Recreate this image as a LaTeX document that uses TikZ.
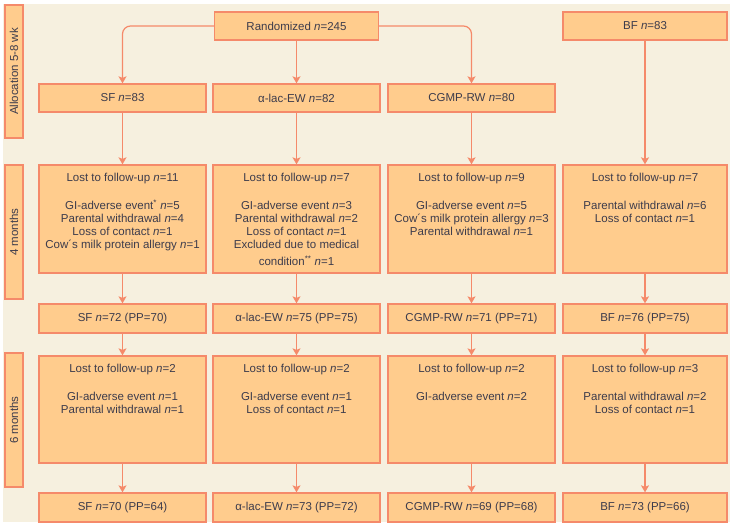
\documentclass[tikz,border=0pt]{standalone}
\usepackage{fontspec}
\setmainfont{Liberation Sans}
\usetikzlibrary{arrows.meta}
\definecolor{bg}{HTML}{F6F0DF}
\definecolor{boxfill}{HTML}{FFCC8D}
\definecolor{bord}{HTML}{F58A6A}
\definecolor{txt}{HTML}{3D3C4C}
\begin{document}
\begin{tikzpicture}[x=1pt,y=1pt,
  box/.style={draw=bord, fill=boxfill, line width=1.3pt, inner sep=0pt, text=txt, font=\fontsize{11.5}{13.2}\selectfont},
  sidebox/.style={box, rotate=90, minimum height=18pt},
  lbl/.style={anchor=north, align=center, inner sep=0pt, text=txt, font=\fontsize{11.5}{13.2}\selectfont},
  arr/.style={draw=bord, line width=1.2pt, -{Stealth[length=7pt,width=8pt,inset=1.5pt]}},
  smallbox/.style={box, minimum height=28pt},
  bigbox/.style={box, minimum height=108pt},
]
\useasboundingbox (0,0) rectangle (735,-527);
\fill[bg] (3,-4) rectangle (730,-522);

% side labels
\node[sidebox, minimum width=133pt] (s1) at (14,-71.5) {Allocation 5-8 wk};
\node[sidebox, minimum width=134pt] (s2) at (14,-232) {4 months};
\node[sidebox, minimum width=134pt] (s3) at (14,-420) {6 months};

% top
\node[smallbox, minimum width=164pt] (rand) at (296.5,-26) {Randomized \textit{n}=245};
\node[smallbox, minimum width=164pt] (bf0) at (645,-26) {BF \textit{n}=83};

% allocation row
\node[smallbox, minimum width=167pt] (sf1) at (122.5,-98) {SF \textit{n}=83};
\node[smallbox, minimum width=167pt] (al1) at (296.5,-98) {α-lac-EW \textit{n}=82};
\node[smallbox, minimum width=167pt] (cg1) at (471.5,-98) {CGMP-RW \textit{n}=80};

% 4 months lost
\node[bigbox, minimum width=167pt] (sf2) at (122.5,-219) {};
\node[bigbox, minimum width=167pt] (al2) at (296.5,-219) {};
\node[bigbox, minimum width=167pt] (cg2) at (471.5,-219) {};
\node[bigbox, minimum width=164pt] (bf2) at (645,-219) {};
\node[lbl] (sf2t) at ([yshift=-8.5pt]sf2.north) {Lost to follow-up \textit{n}=11\\[14.8pt]GI-adverse event\textsuperscript{*} \textit{n}=5\\Parental withdrawal \textit{n}=4\\Loss of contact \textit{n}=1\\Cow´s milk protein allergy \textit{n}=1};
\node[lbl] (al2t) at ([yshift=-8.5pt]al2.north) {Lost to follow-up \textit{n}=7\\[14.8pt]GI-adverse event \textit{n}=3\\Parental withdrawal \textit{n}=2\\Loss of contact \textit{n}=1\\Excluded due to medical\\[3.5pt]condition\textsuperscript{**} \textit{n}=1};
\node[lbl] (cg2t) at ([yshift=-8.5pt]cg2.north) {Lost to follow-up \textit{n}=9\\[14.8pt]GI-adverse event \textit{n}=5\\Cow´s milk protein allergy \textit{n}=3\\Parental withdrawal \textit{n}=1};
\node[lbl] (bf2t) at ([yshift=-8.5pt]bf2.north) {Lost to follow-up \textit{n}=7\\[14.8pt]Parental withdrawal \textit{n}=6\\Loss of contact \textit{n}=1};

% 4 months result
\node[smallbox, minimum width=167pt, minimum height=29pt] (sf3) at (122.5,-318.5) {SF \textit{n}=72 (PP=70)};
\node[smallbox, minimum width=167pt, minimum height=29pt] (al3) at (296.5,-318.5) {α-lac-EW \textit{n}=75 (PP=75)};
\node[smallbox, minimum width=167pt, minimum height=29pt] (cg3) at (471.5,-318.5) {CGMP-RW \textit{n}=71 (PP=71)};
\node[smallbox, minimum width=164pt, minimum height=29pt] (bf3) at (645,-318.5) {BF \textit{n}=76 (PP=75)};

% 6 months lost
\node[bigbox, minimum width=167pt, minimum height=107pt] (sf4) at (122.5,-409.5) {};
\node[bigbox, minimum width=167pt, minimum height=107pt] (al4) at (296.5,-409.5) {};
\node[bigbox, minimum width=167pt, minimum height=107pt] (cg4) at (471.5,-409.5) {};
\node[bigbox, minimum width=164pt, minimum height=107pt] (bf4) at (645,-409.5) {};
\node[lbl] (sf4t) at ([yshift=-8.5pt]sf4.north) {Lost to follow-up \textit{n}=2\\[14.8pt]GI-adverse event \textit{n}=1\\Parental withdrawal \textit{n}=1};
\node[lbl] (al4t) at ([yshift=-8.5pt]al4.north) {Lost to follow-up \textit{n}=2\\[14.8pt]GI-adverse event \textit{n}=1\\Loss of contact \textit{n}=1};
\node[lbl] (cg4t) at ([yshift=-8.5pt]cg4.north) {Lost to follow-up \textit{n}=2\\[14.8pt]GI-adverse event \textit{n}=2};
\node[lbl] (bf4t) at ([yshift=-8.5pt]bf4.north) {Lost to follow-up \textit{n}=3\\[14.8pt]Parental withdrawal \textit{n}=2\\Loss of contact \textit{n}=1};

% 6 months result
\node[smallbox, minimum width=167pt, minimum height=29pt] (sf5) at (122.5,-507.5) {SF \textit{n}=70 (PP=64)};
\node[smallbox, minimum width=167pt, minimum height=29pt] (al5) at (296.5,-507.5) {α-lac-EW \textit{n}=73 (PP=72)};
\node[smallbox, minimum width=167pt, minimum height=29pt] (cg5) at (471.5,-507.5) {CGMP-RW \textit{n}=69 (PP=68)};
\node[smallbox, minimum width=164pt, minimum height=29pt] (bf5) at (645,-507.5) {BF \textit{n}=73 (PP=66)};

% connectors
\draw[arr, rounded corners=8pt] (rand.west) -| (sf1.north);
\draw[arr] (rand.south) -- (al1.north);
\draw[arr, rounded corners=8pt] (rand.east) -| (cg1.north);
\draw[arr] (bf0.south) -- (bf2.north);
\foreach \c in {sf,al,cg}{
  \draw[arr] (\c1.south) -- (\c2.north);
}
\foreach \c in {sf,al,cg,bf}{
  \draw[arr] (\c2.south) -- (\c3.north);
  \draw[arr] (\c3.south) -- (\c4.north);
  \draw[arr] (\c4.south) -- (\c5.north);
}
\end{tikzpicture}
\end{document}
